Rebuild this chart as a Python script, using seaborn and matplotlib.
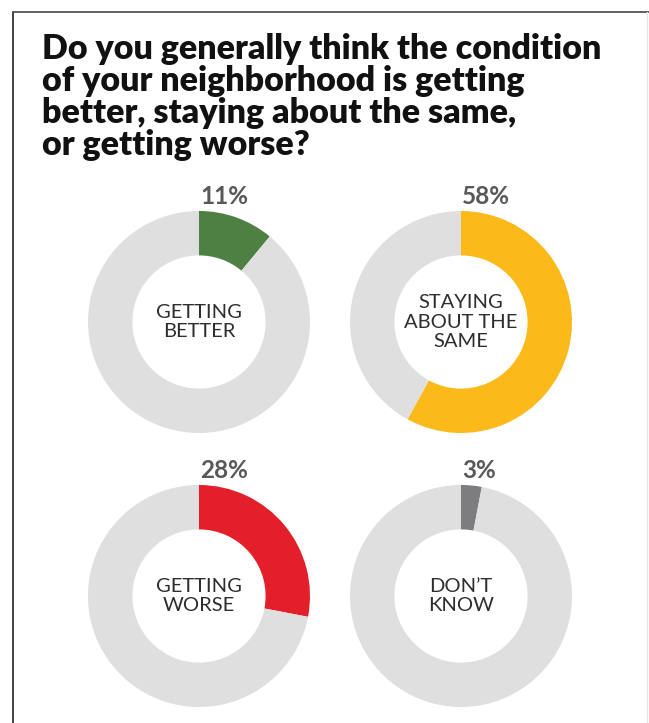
import matplotlib
matplotlib.use("Agg")
import matplotlib.pyplot as plt
import seaborn as sns
from matplotlib.lines import Line2D

sns.set_theme(style="white")
plt.rcParams['font.family'] = ['Lato', 'DejaVu Sans']

title = "Do you generally think the condition\nof your neighborhood is getting\nbetter, staying about the same,\nor getting worse?"
categories = ["GETTING\nBETTER", "STAYING\nABOUT THE\nSAME", "GETTING\nWORSE", "DON\u2019T\nKNOW"]
values = [11, 58, 28, 3]
pct_labels = ["11%", "58%", "28%", "3%"]
colors = ["#4E7F43", "#FBB91A", "#E3202A", "#7D7D80"]
rest_color = "#DFDFDF"

W, H = 649, 723
fig = plt.figure(figsize=(W / 100, H / 100), dpi=100)
fig.patch.set_facecolor("white")

# frame lines
fig.add_artist(Line2D([13 / W, 13 / W], [0, 1 - 12 / H], transform=fig.transFigure, color="#333333", lw=1.3))
fig.add_artist(Line2D([13 / W, 1], [1 - 12 / H, 1 - 12 / H], transform=fig.transFigure, color="#555555", lw=1.3))
fig.add_artist(Line2D([647 / W, 647 / W], [0, 1 - 12 / H], transform=fig.transFigure, color="#E6E6E6", lw=1.0))

fig.text(42 / W, 1 - 33 / H, title, ha="left", va="top", fontsize=24.5, fontweight="heavy",
         color="#111111", linespacing=1.0)

centers = [(199, 322), (461, 322), (199, 596), (461, 596)]
R = 111
for (cx, cy), v, lab, pct, col in zip(centers, values, categories, pct_labels, colors):
    ax = fig.add_axes([(cx - R) / W, (H - cy - R) / H, 2 * R / W, 2 * R / H])
    ax.pie([v, 100 - v], colors=[col, rest_color], startangle=90, counterclock=False,
           radius=1.0, wedgeprops=dict(width=0.4, edgecolor="none"))
    ax.set_xlim(-1, 1)
    ax.set_ylim(-1, 1)
    ax.set_aspect("auto")
    ax.axis("off")
    ax.text(0, 0, lab, ha="center", va="center", fontsize=14.5, color="#2E2E2E",
            linespacing=1.15)
    fig.text((cx + 1) / W, 1 - (cy - R - 14) / H, pct, ha="left", va="center",
             fontsize=17.5, fontweight="bold", color="#58585A")

fig.savefig("out.png", dpi=100, facecolor="white")
